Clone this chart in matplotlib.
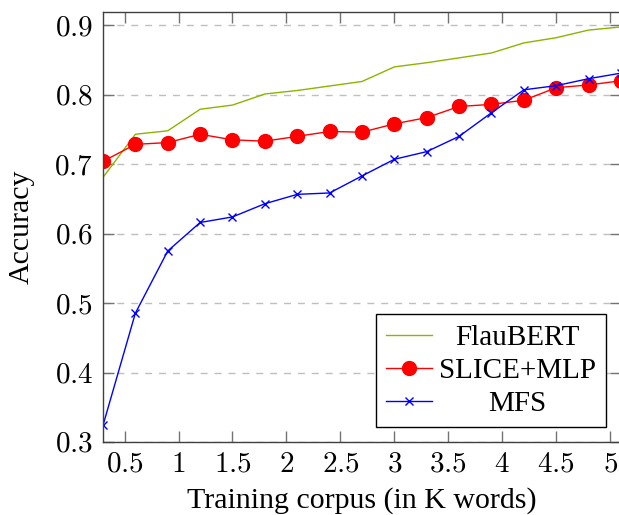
import numpy as np
import matplotlib
matplotlib.use("Agg")
import matplotlib.pyplot as plt

# training corpus size (K words)
corpus = [0.3, 0.6, 0.9, 1.2, 1.5, 1.8, 2.1, 2.4, 2.7, 3.0, 3.3, 3.6, 3.9, 4.2, 4.5, 4.8, 5.1]

flaubert = [0.681, 0.743, 0.748, 0.779, 0.785, 0.801, 0.806, 0.8125, 0.819, 0.840,
            0.846, 0.853, 0.860, 0.8745, 0.882, 0.893, 0.8975]
slice_mlp = [0.704, 0.7285, 0.731, 0.743, 0.735, 0.733, 0.740, 0.747, 0.746, 0.758,
             0.767, 0.783, 0.786, 0.792, 0.810, 0.814, 0.820]
mfs = [0.324, 0.4855, 0.575, 0.616, 0.624, 0.643, 0.6565, 0.6585, 0.683, 0.707,
       0.718, 0.740, 0.774, 0.807, 0.813, 0.823, 0.831]

xticks = [0.5, 1, 1.5, 2, 2.5, 3, 3.5, 4, 4.5, 5]
yticks = [0.3, 0.4, 0.5, 0.6, 0.7, 0.8, 0.9]

plt.rcParams['font.family'] = 'Liberation Serif'
plt.rcParams['mathtext.fontset'] = 'cm'

fig = plt.figure(figsize=(6.19, 5.15), dpi=100)
ax = fig.add_axes([103 / 619, 1 - 442 / 515, 518 / 619, 430 / 515])

ax.plot(corpus, flaubert, color='#8cb400', lw=1.0, label='FlauBERT')
ax.plot(corpus, slice_mlp, color='red', lw=1.0, marker='o', ms=10, label='SLICE+MLP')
ax.plot(corpus, mfs, color='blue', lw=1.0, marker='x', ms=6, mew=1.0, label='MFS')

ax.set_xlim(0.3, 5.1)
ax.set_ylim(0.3, 0.919)
ax.set_xticks(xticks)
ax.set_yticks(yticks)
ax.set_xticklabels([f'${t:g}$' for t in xticks])
ax.set_yticklabels([f'${t:g}$' for t in yticks])
ax.tick_params(direction='in', length=8, width=1, color='0.45', labelsize=21,
               top=True, right=True, pad=7)
ax.yaxis.grid(True, linestyle=(0, (5, 5)), color='0.75', lw=1)
ax.set_axisbelow(True)
for s in ax.spines.values():
    s.set_color('0.25')
    s.set_linewidth(1)

ax.set_xlabel('Training corpus (in K words)', fontsize=21.5, labelpad=7)
ax.set_ylabel('Accuracy', fontsize=21.5, labelpad=14)

leg = ax.legend(loc='lower right', fontsize=21, fancybox=False, framealpha=1,
                edgecolor='black', borderpad=0.36, labelspacing=0.22, handlelength=1.55,
                handletextpad=0.25)
leg.get_frame().set_linewidth(1)

# center the legend labels like pgfplots does
renderer = fig.canvas.get_renderer()
widths = [t.get_window_extent(renderer).width for t in leg.get_texts()]
widest = max(widths)
for t, w in zip(leg.get_texts(), widths):
    t.set_position(((widest - w) / 2, 0))

fig.savefig('out.png', dpi=100)
